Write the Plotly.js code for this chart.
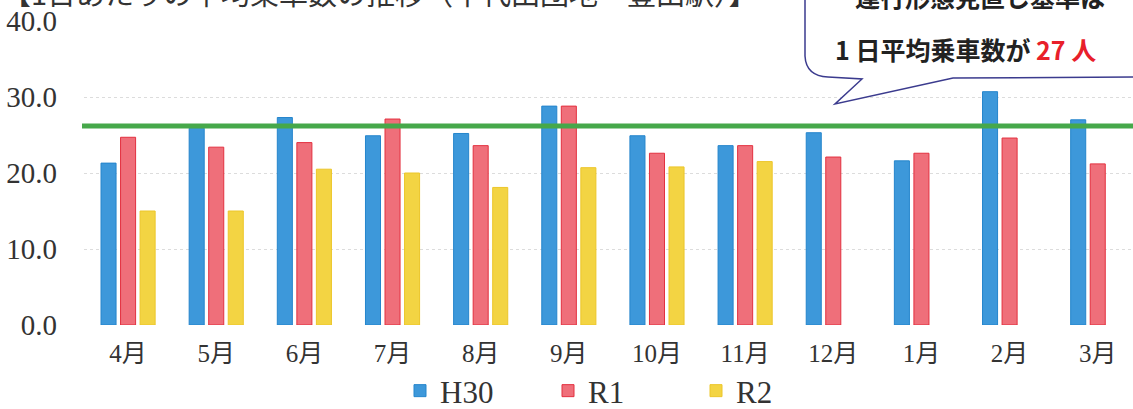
<!DOCTYPE html>
<html>
<head>
<meta charset="utf-8">
<script src="https://cdn.plot.ly/plotly-3.0.1.min.js"></script>
<style>
  html, body { margin: 0; padding: 0; background: #ffffff; }
  #chart { width: 1133px; height: 409px; }
</style>
</head>
<body>
<div id="chart"></div>
<script>
// ---- data ----
const months = ["4月", "5月", "6月", "7月", "8月", "9月", "10月", "11月", "12月", "1月", "2月", "3月"];
const seriesNames = ["H30", "R1", "R2"];
const h30 = [21.3, 25.9, 27.3, 24.9, 25.2, 28.8, 24.9, 23.6, 25.3, 21.6, 30.7, 27.0];
const r1  = [24.7, 23.4, 24.0, 27.1, 23.6, 28.8, 22.6, 23.6, 22.1, 22.6, 24.6, 21.2];
const r2  = [15.0, 15.0, 20.5, 20.0, 18.1, 20.7, 20.8, 21.5, null, null, null, null];
const yTicks = [0, 10, 20, 30, 40];
const standardLine = 26.2;
const titleText = "【1日あたりの平均乗車数の推移（千代田団地－豊田駅）】";
const calloutLine1 = "運行形態見直し基準は";
const calloutLine2 = "1 日平均乗車数が <span style='color:#e8202a'>27 人</span>";

// ---- geometry helpers (pixel -> paper) ----
const W = 1133, H = 409;
const mL = 84, mR = 0, mT = 21, mB = 84;
const pw = W - mL - mR, ph = H - mT - mB;
const px = x => (x - mL) / pw;
const py = y => (H - mB - y) / ph;

const serif = "Liberation Serif, DejaVu Serif, Noto Sans CJK JP, serif";
const cjk = "Noto Sans CJK JP, sans-serif";

const colors = {
  H30: { fill: "#3d98da", line: "#2585cc" },
  R1:  { fill: "#ef6f7a", line: "#e3303f" },
  R2:  { fill: "#f3d443", line: "#ecc62a" }
};
const values = { H30: h30, R1: r1, R2: r2 };

const traces = seriesNames.map(n => ({
  type: "bar",
  name: n,
  x: months,
  y: values[n],
  marker: { color: colors[n].fill, line: { color: colors[n].line, width: 1 } },
  hoverinfo: "x+y+name"
}));

function bubblePath() {
  let p = "M " + px(805) + "," + py(-10);
  p += " L " + px(805) + "," + py(56);
  p += " Q " + px(806) + "," + py(76) + " " + px(828) + "," + py(77);
  p += " L " + px(862) + "," + py(79);
  p += " L " + px(835) + "," + py(104);
  p += " L " + px(953) + "," + py(78);
  p += " L " + px(1145) + "," + py(77);
  p += " L " + px(1145) + "," + py(-10);
  p += " Z";
  return p;
}

const layout = {
  width: W, height: H,
  margin: { l: mL, r: mR, t: mT, b: mB, pad: 0, autoexpand: false },
  paper_bgcolor: "#ffffff",
  plot_bgcolor: "#ffffff",
  barmode: "group",
  bargap: 0.335,
  bargroupgap: 0.23,
  showlegend: true,
  legend: {
    orientation: "h",
    xref: "container", yref: "container",
    x: 400 / W, xanchor: "left",
    y: 1 - 391 / H, yanchor: "middle",
    font: { family: serif, size: 31, color: "#333333" },
    entrywidth: 103, entrywidthmode: "pixels",
    itemwidth: 30,
    bgcolor: "rgba(0,0,0,0)"
  },
  xaxis: {
    type: "category",
    range: [-0.5, 11.4],
    showgrid: false,
    zeroline: false,
    showline: false,
    ticks: "",
    ticklabelstandoff: 11,
    tickfont: { family: serif, size: 25, color: "#333333" },
    fixedrange: true
  },
  yaxis: {
    range: [0, 40],
    tickvals: yTicks,
    tickformat: ".1f",
    showgrid: true,
    gridcolor: "#dcdcdc",
    griddash: "dot",
    gridwidth: 1,
    zeroline: false,
    showline: false,
    ticks: "",
    ticklabelstandoff: 26,
    tickfont: { family: serif, size: 29, color: "#333333" },
    fixedrange: true
  },
  shapes: [
    {
      type: "line", xref: "paper", yref: "y",
      x0: px(82), x1: 1, y0: standardLine, y1: standardLine,
      line: { color: "#46a84a", width: 5 },
      layer: "above"
    },
    {
      type: "path", xref: "paper", yref: "paper",
      path: bubblePath(),
      fillcolor: "#ffffff",
      line: { color: "#3b3b8e", width: 1.5 },
      layer: "above"
    }
  ],
  annotations: [
    {
      xref: "paper", yref: "paper",
      x: px(0), xanchor: "left",
      y: py(-8), yanchor: "middle",
      text: titleText, showarrow: false,
      font: { family: cjk, size: 29, color: "#333333" }
    },
    {
      xref: "paper", yref: "paper",
      x: px(980), xanchor: "center",
      y: py(-4), yanchor: "middle",
      text: "<b>" + calloutLine1 + "</b>", showarrow: false,
      font: { family: cjk, size: 25, color: "#222222" }
    },
    {
      xref: "paper", yref: "paper",
      x: px(833), xanchor: "left",
      y: py(49), yanchor: "middle",
      text: "<b>" + calloutLine2 + "</b>", showarrow: false,
      font: { family: cjk, size: 25, color: "#222222" }
    }
  ]
};

Plotly.newPlot("chart", traces, layout, { displayModeBar: false, staticPlot: true });
</script>
</body>
</html>
